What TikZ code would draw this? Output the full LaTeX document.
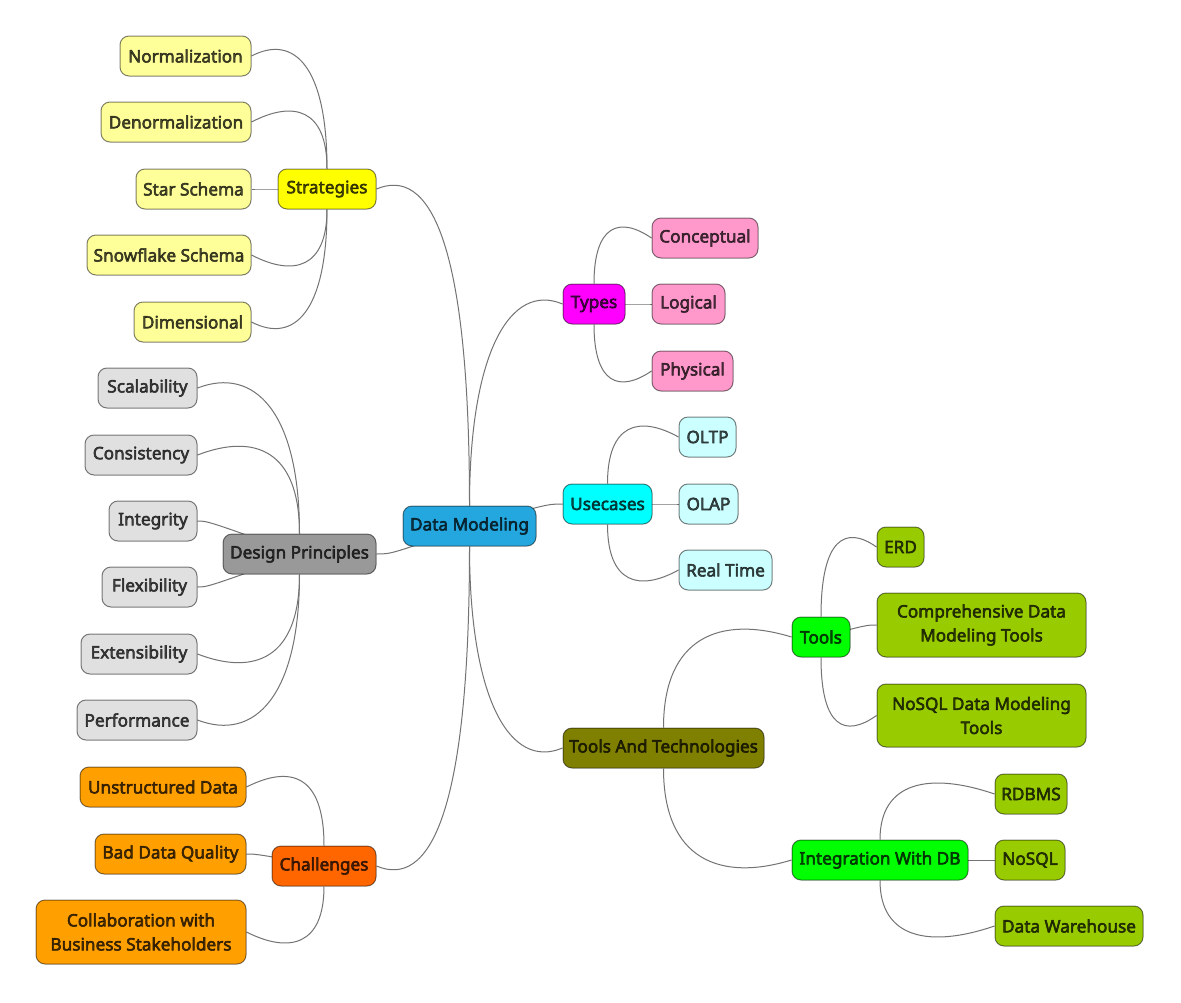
\documentclass[tikz,border=0pt]{standalone}
\usepackage{fontspec}
\setmainfont{Noto Sans}[AutoFakeBold=3]
\usetikzlibrary{calc}
\pgfdeclarelayer{back}
\pgfdeclarelayer{bg}
\pgfsetlayers{back,bg,main}
\definecolor{cRoot}{HTML}{24A7DE}
\definecolor{cYel}{HTML}{FFFF00}
\definecolor{cYelL}{HTML}{FFFF99}
\definecolor{cGry}{HTML}{999999}
\definecolor{cGryL}{HTML}{E0E0E0}
\definecolor{cOrD}{HTML}{FF6600}
\definecolor{cOr}{HTML}{FF9F00}
\definecolor{cMag}{HTML}{FF00FF}
\definecolor{cPink}{HTML}{FF99CC}
\definecolor{cCy}{HTML}{00FFFF}
\definecolor{cCyL}{HTML}{CCFFFF}
\definecolor{cOli}{HTML}{808000}
\definecolor{cGrn}{HTML}{00FF00}
\definecolor{cYG}{HTML}{99CC00}
\definecolor{cLink}{HTML}{737373}
\tikzset{
  box/.style={draw=black, draw opacity=0.5, line width=1pt, rounded corners=9pt,
    minimum height=40pt, inner xsep=2pt, inner ysep=2pt, align=center,
    text=black, text opacity=0.7,
    font=\fontsize{17.2}{24}\selectfont\bfseries},
  tall/.style={minimum height=64pt},
  link/.style={draw=cLink, line width=1pt},
}
\newcommand\conn[4]{%
  \begin{pgfonlayer}{bg}
  \draw[link] let \p1=(#1.#2), \p2=(#3.#4),
     \n1={abs(\y2-\y1)}, \n2={sign(\y2-\y1)},
     \n3={min(\n1+13-61*min(max((\n1-60)/140,0),1), 1.5*\n1)},
     \n4={22*min(1,\n1/40)} in
     (\p1) .. controls ({\x1},{\y1+(\n2)*(\n3)}) and ({\x1+0.44*(\x2-\x1)},{\y2+(\n2)*(\n4)}) .. (\p2);
  \end{pgfonlayer}}
\newcommand\near[4]{%
  \begin{pgfonlayer}{bg}
  \draw[link] (#2.#3) .. controls +(#4,0) .. (#1.center);
  \end{pgfonlayer}}
\begin{document}
\begin{tikzpicture}[x=1pt,y=-1pt]
\begin{pgfonlayer}{back}
\fill[white] (0,0) rectangle (1181,1002);
\end{pgfonlayer}
\useasboundingbox (0,0) rectangle (1181,1002);
% root
\node[box, fill=cRoot, minimum width=133pt] (root) at (469.5,526) {Data Modeling};
% strategies
\node[box, fill=cYel, minimum width=98pt] (strat) at (327,189) {Strategies};
\node[box, fill=cYelL, minimum width=131pt] (norm) at (185.5,56) {Normalization};
\node[box, fill=cYelL, minimum width=150pt] (denorm) at (176,122) {Denormalization};
\node[box, fill=cYelL, minimum width=115pt] (star) at (193.5,189) {Star Schema};
\node[box, fill=cYelL, minimum width=164pt] (snow) at (169,255) {Snowflake Schema};
\node[box, fill=cYelL, minimum width=117pt] (dim) at (192.5,322) {Dimensional};
% design principles
\node[box, fill=cGry, minimum width=153pt] (dp) at (299.5,554) {Design Principles};
\node[box, fill=cGryL, minimum width=99pt] (scal) at (147.5,388) {Scalability};
\node[box, fill=cGryL, minimum width=112pt] (cons) at (141,455) {Consistency};
\node[box, fill=cGryL, minimum width=88pt] (integ) at (153,521) {Integrity};
\node[box, fill=cGryL, minimum width=95pt] (flex) at (149.5,587) {Flexibility};
\node[box, fill=cGryL, minimum width=116pt] (ext) at (139,654) {Extensibility};
\node[box, fill=cGryL, minimum width=120pt] (perf) at (137,720) {Performance};
% challenges
\node[box, fill=cOrD, minimum width=104pt] (chal) at (324,866) {Challenges};
\node[box, fill=cOr, minimum width=166pt] (unstr) at (163,787) {Unstructured Data};
\node[box, fill=cOr, minimum width=151pt] (bad) at (170.5,854) {Bad Data Quality};
\node[box, tall, fill=cOr, minimum width=210pt] (collab) at (141,932) {Collaboration with\\Business Stakeholders};
% types
\node[box, fill=cMag, minimum width=62pt] (types) at (594,304) {Types};
\node[box, fill=cPink, minimum width=106pt] (concept) at (705,238) {Conceptual};
\node[box, fill=cPink, minimum width=73pt] (logical) at (688.5,304) {Logical};
\node[box, fill=cPink, minimum width=81pt] (phys) at (692.5,371) {Physical};
% usecases
\node[box, fill=cCy, minimum width=89pt] (use) at (607.5,504) {Usecases};
\node[box, fill=cCyL, minimum width=57pt] (oltp) at (707.5,437) {OLTP};
\node[box, fill=cCyL, minimum width=59pt] (olap) at (708.5,504) {OLAP};
\node[box, fill=cCyL, minimum width=93pt] (rt) at (725.5,570) {Real Time};
% tools and technologies
\node[box, fill=cOli, minimum width=201pt] (tat) at (663.5,748) {Tools And Technologies};
\node[box, fill=cGrn, minimum width=58pt] (tools) at (821,637) {Tools};
\node[box, fill=cYG, minimum width=47pt] (erd) at (900.5,547) {ERD};
\node[box, tall, fill=cYG, minimum width=209pt] (comp) at (981.5,625) {Comprehensive Data\\Modeling Tools};
\node[box, tall, fill=cYG, minimum width=209pt, minimum height=63pt] (nosqldm) at (981.5,715.5) {NoSQL Data Modeling\\Tools};
\node[box, fill=cGrn, minimum width=176pt] (intdb) at (880,860) {Integration With DB};
\node[box, fill=cYG, minimum width=72pt] (rdbms) at (1031,794) {RDBMS};
\node[box, fill=cYG, minimum width=70pt] (nosql) at (1030,860) {NoSQL};
\node[box, fill=cYG, minimum width=148pt] (dw) at (1069,926) {Data Warehouse};
% connectors
\conn{root}{north}{strat}{east}
\near{root}{dp}{east}{15}
\conn{root}{south}{chal}{east}
\conn{root}{north}{types}{west}
\near{root}{use}{west}{-15}
\conn{root}{south}{tat}{west}
\conn{strat}{north}{norm}{east}
\conn{strat}{north}{denorm}{east}
\near{strat}{star}{east}{10}
\conn{strat}{south}{snow}{east}
\conn{strat}{south}{dim}{east}
\conn{dp}{north}{scal}{east}
\conn{dp}{north}{cons}{east}
\near{dp}{integ}{east}{10}
\near{dp}{flex}{east}{10}
\conn{dp}{south}{ext}{east}
\conn{dp}{south}{perf}{east}
\conn{chal}{north}{unstr}{east}
\near{chal}{bad}{east}{10}
\conn{chal}{south}{collab}{east}
\conn{types}{north}{concept}{west}
\near{types}{logical}{west}{-10}
\conn{types}{south}{phys}{west}
\conn{use}{north}{oltp}{west}
\near{use}{olap}{west}{-10}
\conn{use}{south}{rt}{west}
\conn{tat}{north}{tools}{west}
\conn{tat}{south}{intdb}{west}
\conn{tools}{north}{erd}{west}
\near{tools}{comp}{west}{-10}
\conn{tools}{south}{nosqldm}{west}
\conn{intdb}{north}{rdbms}{west}
\near{intdb}{nosql}{west}{-10}
\conn{intdb}{south}{dw}{west}
\end{tikzpicture}
\end{document}
